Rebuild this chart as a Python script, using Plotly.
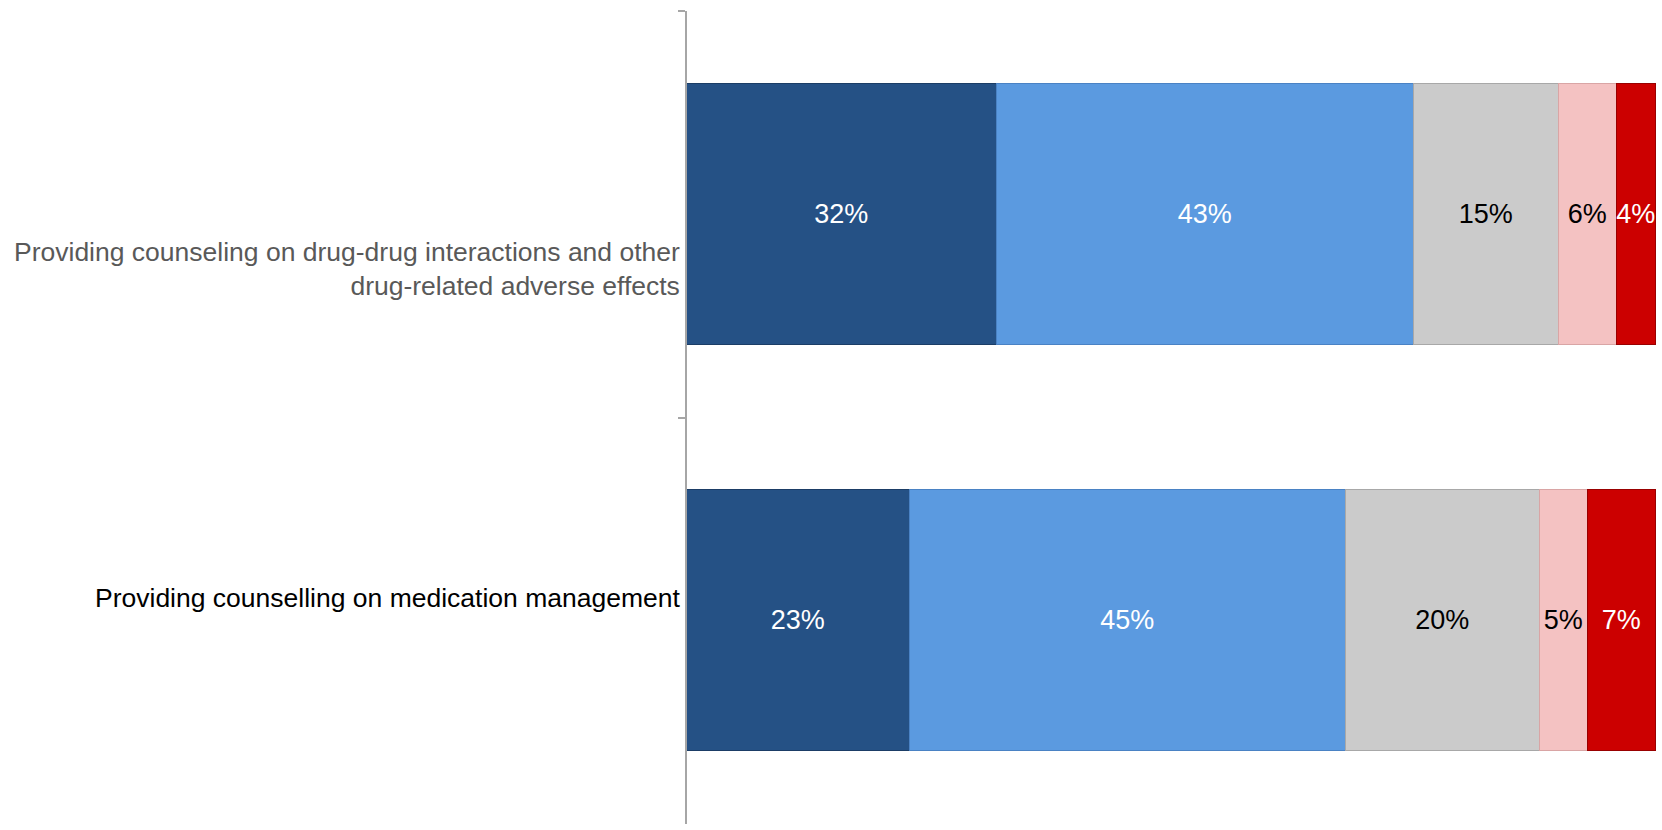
import plotly.graph_objects as go

# Survey items, listed top to bottom
categories = [
    "Providing counseling on drug-drug interactions and other<br>drug-related adverse effects",
    "Providing counselling on medication management",
]
label_colors = ["#595959", "#000000"]

# Share of responses per rating level (percent)
series_names = ["Level 1", "Level 2", "Level 3", "Level 4", "Level 5"]
series_values = [
    [32, 23],
    [43, 45],
    [15, 20],
    [6, 5],
    [4, 7],
]
fill_colors = ["#255185", "#5B9AE0", "#CBCBCB", "#F4C2C2", "#CC0000"]
edge_colors = ["#1B3D66", "#4A82C4", "#A8A8A8", "#D9A5A5", "#990000"]
text_colors = ["#FFFFFF", "#FFFFFF", "#000000", "#000000", "#FFFFFF"]

ycats = ["c0", "c1"]

fig = go.Figure()
for name, vals, fc, ec, tc in zip(series_names, series_values, fill_colors, edge_colors, text_colors):
    fig.add_trace(go.Bar(
        y=ycats,
        x=vals,
        orientation="h",
        name=name,
        width=0.643,
        marker=dict(color=fc, line=dict(color=ec, width=1.5)),
        text=[f"{v}%" for v in vals],
        textposition="inside",
        insidetextanchor="middle",
        textangle=0,
        constraintext="none",
        textfont=dict(family="Liberation Sans, Arial, sans-serif", size=27, color=tc),
        cliponaxis=True,
        hoverinfo="skip",
    ))

# Category labels drawn beside the axis
label_shifts = [-55, 23]
for cat, txt, col, ys in zip(ycats, categories, label_colors, label_shifts):
    fig.add_annotation(
        x=0, xref="paper", y=cat, yref="y",
        text=txt, showarrow=False,
        xanchor="right", yanchor="middle", align="right",
        xshift=-5, yshift=ys,
        font=dict(family="Liberation Sans, Arial, sans-serif", size=26.5, color=col),
    )

fig.update_layout(
    barmode="stack",
    width=1662, height=830,
    margin=dict(l=687, r=6, t=11, b=6),
    paper_bgcolor="white",
    plot_bgcolor="white",
    showlegend=False,
    bargap=0,
    xaxis=dict(range=[0, 100], visible=False, fixedrange=True),
    yaxis=dict(
        type="category",
        categoryorder="array",
        categoryarray=ycats,
        autorange="reversed",
        showticklabels=False,
        showline=True, linecolor="#A6A6A6", linewidth=1.5,
        ticks="outside", tickson="boundaries", ticklen=7,
        tickcolor="#A6A6A6", tickwidth=1.5,
        showgrid=False, zeroline=False,
    ),
)

fig.write_html("out.html")
